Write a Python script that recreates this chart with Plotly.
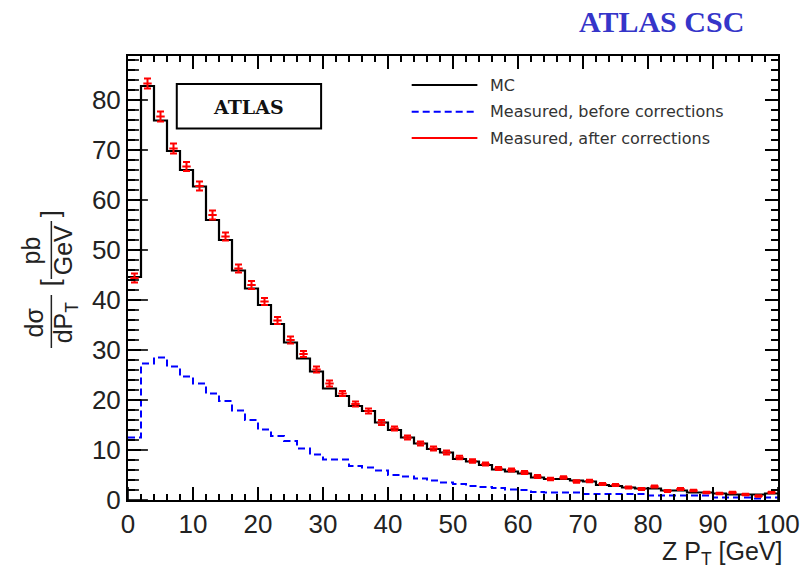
import plotly.graph_objects as go

# ---------------- data ----------------
BIN_LOW = list(range(0, 100, 2))   # lower edges of the 2 GeV bins
BIN_WIDTH = 2

mc = [44.6, 82.8, 75.9, 69.8, 66.0, 62.7, 56.0, 52.0, 45.9, 42.3,
      39.0, 35.2, 31.5, 28.3, 25.7, 22.3, 20.8, 18.8, 17.8, 15.5,
      14.0, 12.5, 11.3, 10.2, 9.5, 8.2, 7.7, 7.0, 6.1, 5.7,
      5.3, 4.5, 4.2, 4.2, 3.9, 3.7, 3.0, 2.8, 2.5, 2.3,
      2.3, 1.9, 1.9, 1.5, 1.5, 1.3, 1.1, 1.1, 1.1, 1.3]

before = [12.5, 27.3, 28.5, 26.7, 24.7, 23.3, 21.3, 19.8, 17.9, 16.0,
          14.1, 12.8, 11.8, 10.3, 9.1, 8.1, 8.1, 6.8, 6.5, 5.9,
          5.0, 4.7, 4.3, 3.9, 3.5, 3.2, 2.8, 2.6, 2.4, 2.1,
          2.0, 1.6, 1.5, 1.5, 1.5, 1.2, 1.2, 1.2, 1.2, 1.2,
          0.9, 0.9, 0.9, 0.9, 0.9, 0.5, 0.5, 0.5, 0.3, 0.5]

after = [44.4, 83.3, 76.7, 70.3, 66.7, 62.8, 57.0, 52.7, 46.3, 43.0,
         39.7, 35.9, 32.0, 29.2, 26.1, 23.3, 21.3, 19.2, 17.8, 15.5,
         14.3, 12.5, 11.3, 10.3, 9.5, 8.5, 7.8, 7.2, 6.3, 6.0,
         5.5, 4.7, 4.2, 4.5, 3.7, 3.8, 3.2, 3.0, 2.5, 2.2,
         2.7, 1.8, 2.2, 1.9, 1.5, 1.3, 1.5, 1.1, 0.8, 1.5]

after_err = [0.9, 1.0, 1.0, 1.0, 0.9, 0.9, 0.9, 0.8, 0.8, 0.8,
             0.7, 0.7, 0.7, 0.6, 0.6, 0.6, 0.5, 0.5, 0.5, 0.5,
             0.4, 0.4, 0.4, 0.4, 0.4, 0.35, 0.35, 0.3, 0.3, 0.3,
             0.3, 0.3, 0.25, 0.25, 0.25, 0.25, 0.2, 0.2, 0.2, 0.2,
             0.2, 0.2, 0.2, 0.15, 0.15, 0.15, 0.15, 0.15, 0.15, 0.15]

SERIES_NAMES = ["MC", "Measured, before corrections", "Measured, after corrections"]
SERIES_COLORS = ["#000000", "#0000ff", "#ff0000"]
SERIES_DASH = ["solid", "7px,4px", "solid"]

X_TICKS = [0, 10, 20, 30, 40, 50, 60, 70, 80, 90, 100]
X_MINOR_TICKS = list(range(0, 101, 2))
Y_TICKS = [0, 10, 20, 30, 40, 50, 60, 70, 80]
Y_MINOR_TICKS = list(range(0, 89, 2))
X_TICK_STEP, X_MINOR_STEP = 10, 2
Y_TICK_STEP, Y_MINOR_STEP = 10, 2
X_RANGE = [0, 100]
Y_RANGE = [0, 88.8]

# ---------------- geometry helpers ----------------
W, H = 812, 569
L, R, T, B = 128, 31, 56, 69
PW, PH = W - L - R, H - T - B
X_PER_PX = (X_RANGE[1] - X_RANGE[0]) / PW
Y_PER_PX = (Y_RANGE[1] - Y_RANGE[0]) / PH


def px(xp, yp):
    return (xp - L) / PW, (H - B - yp) / PH


edges = BIN_LOW + [BIN_LOW[-1] + BIN_WIDTH]
centers = [b + BIN_WIDTH / 2 for b in BIN_LOW]

fig = go.Figure()
for vals, name, col, dash, w in [(mc, SERIES_NAMES[0], SERIES_COLORS[0], SERIES_DASH[0], 2.2),
                                 (before, SERIES_NAMES[1], SERIES_COLORS[1], SERIES_DASH[1], 2)]:
    fig.add_trace(go.Scatter(x=edges, y=vals + [vals[-1]], mode="lines", name=name,
                             line=dict(shape="hv", color=col, width=w, dash=dash),
                             showlegend=False, hoverinfo="skip"))

fig.add_trace(go.Scatter(x=centers, y=after, mode="markers", name=SERIES_NAMES[2],
                         marker=dict(color=SERIES_COLORS[2], size=6, symbol="line-ew",
                                     line=dict(color=SERIES_COLORS[2], width=2)),
                         error_y=dict(type="data", array=after_err, color=SERIES_COLORS[2],
                                      thickness=2, width=3.5),
                         showlegend=False))

tickfont = dict(family="Liberation Sans, Arial, sans-serif", size=26, color="#222")


def tick_axis(rng, step, minor_step, ln, mln, **kw):
    d = dict(range=rng, tickmode="linear", tick0=0, dtick=step,
             ticks="inside", ticklen=ln, tickwidth=1.5, tickcolor="black",
             minor=dict(dtick=minor_step, ticks="inside", ticklen=mln,
                        tickwidth=1.5, tickcolor="black", showgrid=False),
             showline=True, linecolor="black", linewidth=2, mirror="allticks",
             showgrid=False, zeroline=False, tickfont=tickfont)
    d.update(kw)
    return d


fig.update_layout(
    width=W, height=H, margin=dict(l=L, r=R, t=T, b=B),
    paper_bgcolor="white", plot_bgcolor="white", showlegend=False,
    xaxis=tick_axis(X_RANGE, X_TICK_STEP, X_MINOR_STEP, 13, 6),
    yaxis=tick_axis(Y_RANGE, Y_TICK_STEP, Y_MINOR_STEP, 13, 7),
)

shapes = []
annotations = []

# inward ticks on the bottom and left edges, placed through the axis scales
tick_line = dict(color="black", width=1.6)
for v in X_MINOR_TICKS:
    ln = (13 if v in X_TICKS else 6) * Y_PER_PX
    shapes.append(dict(type="line", xref="x", yref="y", x0=v, x1=v,
                       y0=Y_RANGE[0], y1=Y_RANGE[0] + ln, line=tick_line, layer="above"))
for v in Y_MINOR_TICKS:
    ln = (20 if v in Y_TICKS else 11) * X_PER_PX
    shapes.append(dict(type="line", xref="x", yref="y", x0=X_RANGE[0], x1=X_RANGE[0] + ln,
                       y0=v, y1=v, line=tick_line, layer="above"))

# manual legend
leg_rows = [85, 111.7, 138]
for name, col, dash, yp in zip(SERIES_NAMES, SERIES_COLORS, SERIES_DASH, leg_rows):
    x0, y0 = px(413, yp)
    x1, _ = px(479, yp)
    shapes.append(dict(type="line", xref="paper", yref="paper", x0=x0, x1=x1, y0=y0, y1=y0,
                       line=dict(color=col, width=2, dash=dash)))
    tx, ty = px(490, yp)
    annotations.append(dict(text=name, xref="paper", yref="paper", x=tx, y=ty,
                            xanchor="left", yanchor="middle", showarrow=False,
                            font=dict(family="DejaVu Sans, sans-serif", size=16, color="#333")))

# ATLAS box
bx0, by0 = px(177, 84)
bx1, by1 = px(322, 128.5)
shapes.append(dict(type="rect", xref="paper", yref="paper", x0=bx0, x1=bx1, y0=by1, y1=by0,
                   line=dict(color="black", width=2), fillcolor="white"))
ax_, ay_ = px(249.5, 107)
annotations.append(dict(text="<b>ATLAS</b>", xref="paper", yref="paper", x=ax_, y=ay_,
                        xanchor="center", yanchor="middle", showarrow=False,
                        font=dict(family="DejaVu Serif, serif", size=19, color="#111")))

# top-right title
tx_, ty_ = px(664, 22)
annotations.append(dict(text="<b>ATLAS CSC</b>", xref="paper", yref="paper", x=tx_, y=ty_,
                        xanchor="center", yanchor="middle", showarrow=False,
                        font=dict(family="Liberation Serif, Times New Roman, serif", size=30,
                                  color="#3535c9")))

# x-axis title
xt, yt = px(787, 553)
annotations.append(dict(text="Z P<sub>T</sub> [GeV]", xref="paper", yref="paper", x=xt, y=yt,
                        xanchor="right", yanchor="middle", showarrow=False,
                        font=dict(family="Liberation Sans, Arial, sans-serif", size=25,
                                  color="#222")))

# y-axis title built from rotated pieces
yfont = dict(family="Liberation Sans, Arial, sans-serif", size=25, color="#222")
for text, (xp, yp) in [("dσ", (34, 322)), ("dP<sub>T</sub>", (65, 322)),
                       ("pb", (31, 250)), ("GeV", (63, 250)),
                       ("[", (50, 283)), ("]", (50, 214))]:
    ex, ey = px(xp, yp)
    annotations.append(dict(text=text, xref="paper", yref="paper", x=ex, y=ey,
                            xanchor="center", yanchor="middle", showarrow=False,
                            textangle=-90, font=yfont))
for (yp0, yp1) in [(295, 348), (221, 279)]:
    ex, ey0 = px(51, yp0)
    _, ey1 = px(51, yp1)
    shapes.append(dict(type="line", xref="paper", yref="paper", x0=ex, x1=ex, y0=ey0, y1=ey1,
                       line=dict(color="#222", width=1.5)))

fig.update_layout(shapes=shapes, annotations=annotations)
fig.write_html("out.html")
